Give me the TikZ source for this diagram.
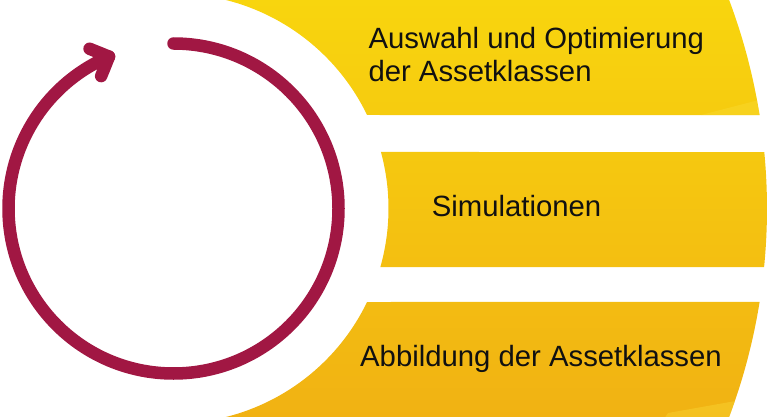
\documentclass[tikz,border=0pt]{standalone}
\usepackage{fontspec}
\setmainfont{Liberation Sans}
\usetikzlibrary{calc}
\definecolor{arrowred}{RGB}{161,23,67}
\definecolor{bandtop}{RGB}{248,213,14}
\definecolor{bandbot}{RGB}{241,178,19}
\definecolor{bandlight}{RGB}{250,222,60}
\definecolor{txt}{RGB}{17,17,17}
\begin{document}
\begin{tikzpicture}[x=1pt,y=1pt,
  bandtext/.style={font=\fontsize{29.3}{33.5}\selectfont, text=txt, inner sep=0pt, anchor=base west, align=left},
  cyclearrow/.style={draw=arrowred, line width=12.5pt, line cap=round, line join=round}]
\useasboundingbox (0,0) rectangle (768,-417);
\coordinate (C) at (173.5,-208.5);
% bands
\shade[top color=bandtop, bottom color=bandbot]
  ($(C)+(75.88:215pt)$) arc[start angle=75.88, end angle=25.78, radius=215pt]
    -- ($(C)+(9.06:593.5pt)$) arc[start angle=9.06, end angle=20.57, radius=593.5pt] -- cycle
  ($(C)+(15.24:215pt)$) arc[start angle=15.24, end angle=-15.79, radius=215pt]
    -- ($(C)+(-5.66:593.5pt)$) arc[start angle=-5.66, end angle=5.46, radius=593.5pt] -- cycle
  ($(C)+(-25.78:215pt)$) arc[start angle=-25.78, end angle=-75.88, radius=215pt]
    -- ($(C)+(-20.57:593.5pt)$) arc[start angle=-20.57, end angle=-9.06, radius=593.5pt] -- cycle;
% subtle highlights
\begin{scope}
  \clip ($(C)+(25.78:215pt)$) -- ($(C)+(9.06:593.5pt)$) arc[start angle=9.06, end angle=20.57, radius=593.5pt] -- (600,20) -- cycle;
  \fill[bandlight, fill opacity=0.35] (701,-115) -- (759,-100) -- (775,-120) -- cycle;
\end{scope}
\begin{scope}
  \clip ($(C)+(-75.88:215pt)$) -- ($(C)+(-20.57:593.5pt)$) arc[start angle=-20.57, end angle=-9.06, radius=593.5pt] -- (300,-300) -- cycle;
  \fill[bandlight, fill opacity=0.35] (668,-413) -- (758,-397) -- (775,-425) -- (660,-425) -- cycle;
\end{scope}
% cycle arrow
\draw[cyclearrow] ($(C)+(90:165pt)$) arc[start angle=90, end angle=-247, radius=165pt];
\coordinate (V) at ($(C)+(113:165pt)$);
\draw[cyclearrow] ($(V)+(158:21pt)$) -- (V) -- ($(V)+(248:21pt)$);
% texts
\node[bandtext] (t1) at (368.3,-81.7) {Auswahl und Optimierung\\der Assetklassen};
\node[bandtext] (t2) at (431.7,-216.7) {Simulationen};
\node[bandtext] (t3) at (360,-366.7) {Abbildung der Assetklassen};
\end{tikzpicture}
\end{document}
